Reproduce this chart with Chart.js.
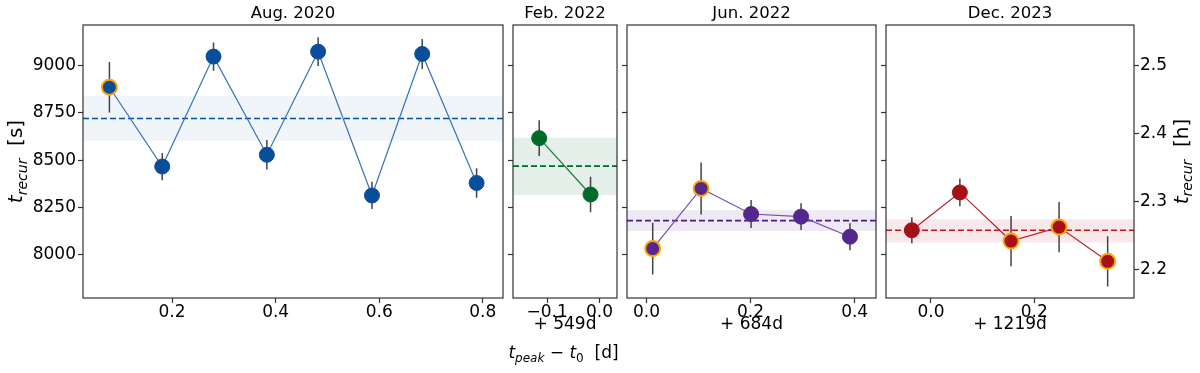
<!DOCTYPE html>
<html>
<head>
<meta charset="utf-8">
<script src="https://cdn.jsdelivr.net/npm/chart.js@4.4.1/dist/chart.umd.min.js"></script>
<style>
  html, body { margin: 0; padding: 0; background: #fff; }
  #wrap { position: relative; width: 1200px; height: 373px; }
  #wrap canvas { position: absolute; left: 0; top: 0; }
</style>
</head>
<body>
<div id="wrap">
  <canvas id="c-aug" width="1200" height="373"></canvas>
  <canvas id="c-feb" width="1200" height="373"></canvas>
  <canvas id="c-jun" width="1200" height="373"></canvas>
  <canvas id="c-dec" width="1200" height="373"></canvas>
</div>
<script>
// shared recurrence-time axis (seconds on the left, hours on the right)
const secLim = [7772, 9215];
const secTicks = [8000, 8250, 8500, 8750, 9000];
const hourTicks = [2.2, 2.3, 2.4, 2.5];
const hourTickLabels = ['2.2', '2.3', '2.4', '2.5'];

// Aug. 2020
const augT = [0.079, 0.181, 0.280, 0.383, 0.482, 0.586, 0.683, 0.788];
const augRecur = [8886, 8467, 9048, 8529, 9074, 8314, 9062, 8380];
const augErr = [134, 72, 75, 78, 76, 72, 79, 78];
const augFlag = [1, 0, 0, 0, 0, 0, 0, 0];
const augMean = 8721;
const augBand = [8603, 8840];
const augXLim = [0.028, 0.839];
const augXTicks = [0.2, 0.4, 0.6, 0.8];
const augXTickLabels = ['0.2', '0.4', '0.6', '0.8'];

// Feb. 2022
const febT = [-0.115, -0.017];
const febRecur = [8617, 8319];
const febErr = [94, 94];
const febFlag = [0, 0];
const febMean = 8469;
const febBand = [8317, 8619];
const febXLim = [-0.165, 0.0335];
const febXTicks = [-0.1, 0.0];
const febXTickLabels = ['\u22120.1', '0.0'];

// Jun. 2022
const junT = [0.012, 0.105, 0.201, 0.297, 0.391];
const junRecur = [8033, 8351, 8216, 8202, 8096];
const junErr = [137, 137, 74, 71, 71];
const junFlag = [1, 1, 0, 0, 0];
const junMean = 8181;
const junBand = [8126, 8236];
const junXLim = [-0.0374, 0.441];
const junXTicks = [0.0, 0.2, 0.4];
const junXTickLabels = ['0.0', '0.2', '0.4'];

// Dec. 2023
const decT = [-0.037, 0.056, 0.155, 0.248, 0.342];
const decRecur = [8130, 8330, 8073, 8147, 7966];
const decErr = [69, 73, 133, 133, 133];
const decFlag = [0, 0, 1, 1, 1];
const decMean = 8130;
const decBand = [8066, 8188];
const decXLim = [-0.087, 0.393];
const decXTicks = [0.0, 0.2];
const decXTickLabels = ['0.0', '0.2'];

const FONT = 'DejaVu Sans';
const AXIS = '#333';

// draws a line of mixed text (italic / subscript pieces), centred on cx
function drawRich(ctx, segs, cx, cy, angle) {
    ctx.save();
    ctx.translate(cx, cy);
    ctx.rotate(angle);
    ctx.fillStyle = '#000';
    ctx.textBaseline = 'alphabetic';
    let total = 0;
    segs.forEach(s => {
        ctx.font = (s.italic ? 'italic ' : '') + s.size + 'px "' + FONT + '"';
        s.w = ctx.measureText(s.text).width;
        total += s.w;
    });
    let x = -total / 2;
    segs.forEach(s => {
        ctx.font = (s.italic ? 'italic ' : '') + s.size + 'px "' + FONT + '"';
        ctx.fillText(s.text, x, s.dy || 0);
        x += s.w;
    });
    ctx.restore();
}

const recurLabel = unit => [
    { text: 't', size: 20, italic: true },
    { text: 'recur', size: 14, italic: true, dy: 4.5 },
    { text: '  [' + unit + ']', size: 20 }
];

const peakLabel = [
    { text: 't', size: 17, italic: true },
    { text: 'peak', size: 12, italic: true, dy: 3.5 },
    { text: ' \u2212 ', size: 17 },
    { text: 't', size: 17, italic: true },
    { text: '0', size: 12, dy: 3.5 },
    { text: '  [d]', size: 17 }
];

const framePlugin = {
    id: 'frame',
    afterDraw(chart) {
        const { ctx, chartArea: a } = chart;
        ctx.save();
        ctx.strokeStyle = AXIS;
        ctx.lineWidth = 1.2;
        ctx.strokeRect(a.left, a.top, a.right - a.left, a.bottom - a.top);
        ctx.restore();
        const extra = chart.options.plugins.richText || [];
        extra.forEach(l => {
            const mid = (a.top + a.bottom) / 2;
            if (l.kind === 'left') drawRich(ctx, l.segs, a.left - 61, mid, -Math.PI / 2);
            if (l.kind === 'right') drawRich(ctx, l.segs, a.right + 53.5, mid, -Math.PI / 2);
            if (l.kind === 'below') drawRich(ctx, l.segs, (a.left + a.right) / 2 - 1.5, a.bottom + 60, 0);
        });
    }
};

const tickFont = { family: FONT, size: 17 };
const gridTicks = { display: true, drawOnChartArea: false, drawTicks: true, tickLength: 5, tickColor: AXIS, tickWidth: 1.2 };

function makePanel(id, p) {
    const pts = p.t.map((x, i) => ({ x, y: p.recur[i] }));
    const bars = [];
    p.t.forEach((x, i) => {
        bars.push({ x, y: p.recur[i] - p.err[i] });
        bars.push({ x, y: p.recur[i] + p.err[i] });
        bars.push({ x, y: null });
    });

    const scales = {
        x: {
            type: 'linear', position: 'bottom',
            min: p.xLim[0], max: p.xLim[1],
            afterBuildTicks: s => { s.ticks = p.xTicks.map(v => ({ value: v })); },
            ticks: {
                autoSkip: false, maxRotation: 0, padding: -1, color: '#000', font: tickFont,
                callback: (v, i) => p.xTickLabels[i]
            },
            grid: gridTicks,
            border: { display: false },
            title: {
                display: !!p.offset, text: p.offset, color: '#000',
                font: { family: FONT, size: 17 }, padding: { top: 0, bottom: 38 }
            },
            afterFit: s => { s.height = 75; }
        },
        y: {
            type: 'linear', position: 'left',
            min: secLim[0], max: secLim[1],
            afterBuildTicks: s => { s.ticks = secTicks.map(v => ({ value: v })); },
            ticks: { display: p.yLabels, padding: 2, color: '#000', font: tickFont, callback: v => String(v) },
            grid: gridTicks,
            border: { display: false },
            afterFit: s => { s.width = p.yW; }
        }
    };
    if (p.hours) {
        scales.y2 = {
            type: 'linear', position: 'right',
            min: secLim[0] / 3600, max: secLim[1] / 3600,
            afterBuildTicks: s => { s.ticks = hourTicks.map(v => ({ value: v })); },
            ticks: { padding: 1, color: '#000', font: tickFont, callback: (v, i) => hourTickLabels[i] },
            grid: gridTicks,
            border: { display: false },
            afterFit: s => { s.width = p.y2W; }
        };
    }

    return new Chart(document.getElementById(id), {
        type: 'scatter',
        data: {
            datasets: [
                {
                    data: pts, showLine: false, order: 1,
                    pointRadius: 7.5,
                    pointBackgroundColor: p.color,
                    pointBorderColor: p.flag.map(f => f ? '#ffa500' : p.color),
                    pointBorderWidth: p.flag.map(f => f ? 2 : 1)
                },
                {
                    data: pts, showLine: true, order: 2,
                    borderColor: p.lineColor, borderWidth: 1.2, pointRadius: 0
                },
                {
                    data: bars, showLine: true, spanGaps: false, order: 3,
                    borderColor: 'rgba(35,35,35,0.85)', borderWidth: 1.5, pointRadius: 0
                },
                {
                    data: [{ x: p.xLim[0], y: p.mean }, { x: p.xLim[1], y: p.mean }],
                    showLine: true, order: 4,
                    borderColor: p.meanColor, borderWidth: 1.6, borderDash: [6, 3], pointRadius: 0
                },
                {
                    data: [{ x: p.xLim[0], y: p.band[1] }, { x: p.xLim[1], y: p.band[1] }],
                    showLine: true, order: 5,
                    borderColor: 'transparent', pointRadius: 0,
                    fill: { value: p.band[0] }, backgroundColor: p.bandColor
                }
            ]
        },
        options: {
            responsive: false,
            animation: false,
            devicePixelRatio: 1,
            layout: {
                autoPadding: false,
                padding: { left: p.box[0] - p.yW, right: 1200 - p.box[1] - (p.hours ? p.y2W : 0), top: 0, bottom: 0 }
            },
            scales,
            plugins: {
                legend: { display: false },
                tooltip: { enabled: false },
                title: {
                    display: true, text: p.title, fullSize: false, color: '#000',
                    font: { family: FONT, size: 16.5, weight: 'normal' },
                    padding: { top: 4, bottom: 1.2 }
                },
                richText: p.richText
            }
        },
        plugins: [framePlugin]
    });
}

makePanel('c-aug', {
    title: 'Aug. 2020', offset: '', box: [83, 503], yW: 83, yLabels: true,
    t: augT, recur: augRecur, err: augErr, flag: augFlag, mean: augMean, band: augBand,
    xLim: augXLim, xTicks: augXTicks, xTickLabels: augXTickLabels,
    color: '#0a4d9b', lineColor: '#3572bb', meanColor: '#0a4d9b', bandColor: 'rgba(8,81,156,0.06)',
    richText: [{ kind: 'left', segs: recurLabel('s') }]
});
makePanel('c-feb', {
    title: 'Feb. 2022', offset: '+ 549d', box: [513, 617], yW: 10, yLabels: false,
    t: febT, recur: febRecur, err: febErr, flag: febFlag, mean: febMean, band: febBand,
    xLim: febXLim, xTicks: febXTicks, xTickLabels: febXTickLabels,
    color: '#006a2a', lineColor: '#1c7a3c', meanColor: '#006a2a', bandColor: 'rgba(0,109,44,0.11)',
    richText: [{ kind: 'below', segs: peakLabel }]
});
makePanel('c-jun', {
    title: 'Jun. 2022', offset: '+ 684d', box: [627, 876], yW: 10, yLabels: false,
    t: junT, recur: junRecur, err: junErr, flag: junFlag, mean: junMean, band: junBand,
    xLim: junXLim, xTicks: junXTicks, xTickLabels: junXTickLabels,
    color: '#54278f', lineColor: '#7052a8', meanColor: '#4a1d8a', bandColor: 'rgba(84,39,143,0.10)',
    richText: []
});
makePanel('c-dec', {
    title: 'Dec. 2023', offset: '+ 1219d', box: [886, 1134], yW: 10, y2W: 66, yLabels: false, hours: true,
    t: decT, recur: decRecur, err: decErr, flag: decFlag, mean: decMean, band: decBand,
    xLim: decXLim, xTicks: decXTicks, xTickLabels: decXTickLabels,
    color: '#a50f15', lineColor: '#b0242a', meanColor: '#c0141b', bandColor: 'rgba(190,30,40,0.10)',
    richText: [{ kind: 'right', segs: recurLabel('h') }]
});
</script>
</body>
</html>
